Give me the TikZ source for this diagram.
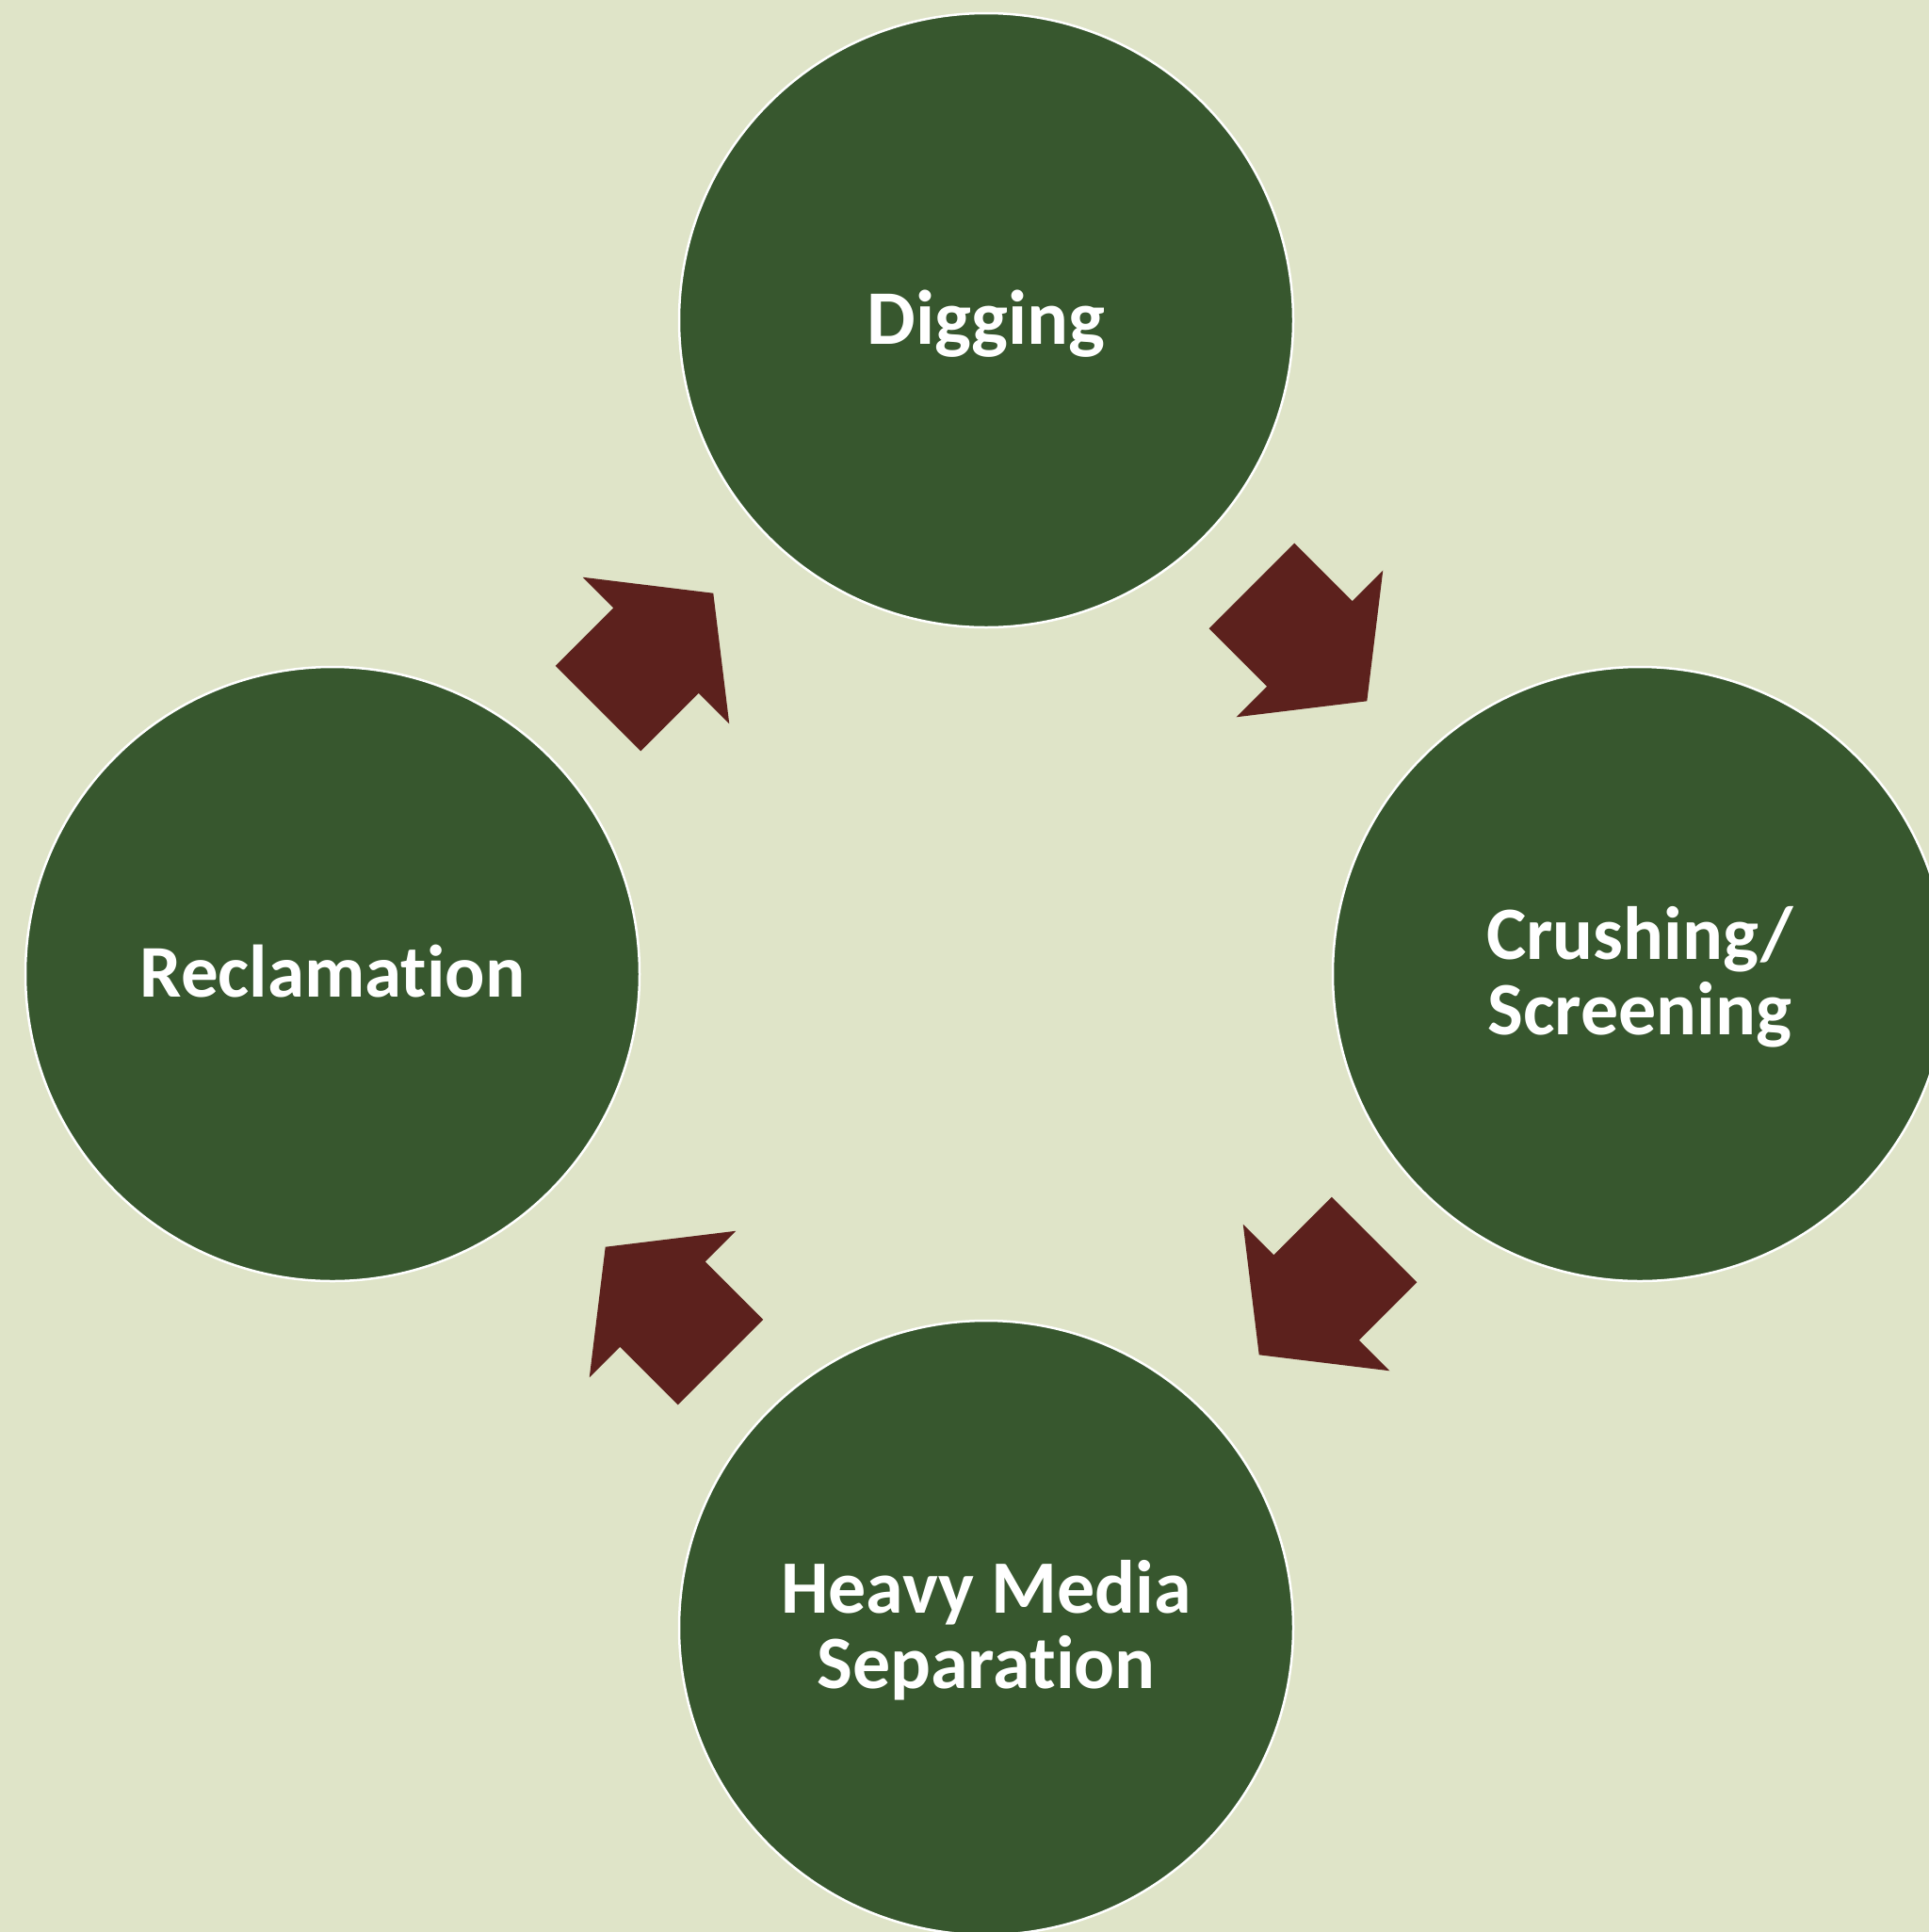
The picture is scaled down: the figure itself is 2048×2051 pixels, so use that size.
\documentclass[tikz,border=0pt]{standalone}
\usepackage{fontspec}
\setmainfont{Carlito}[Ligatures=NoCommon]
\usetikzlibrary{calc}
\definecolor{bgc}{RGB}{223,228,200}
\definecolor{stagec}{RGB}{55,87,46}
\definecolor{arrowc}{RGB}{92,33,29}
\begin{document}
\begin{tikzpicture}[x=1pt,y=1pt,
  stage/.style={circle,fill=stagec,draw=white,line width=2.5pt,minimum size=652pt,inner sep=0pt,
    text=white,font=\bfseries,align=center},
  one/.style={font=\fontsize{82}{80}\selectfont\bfseries,text height=50pt,text depth=0pt},
  onesmall/.style={font=\fontsize{79}{80}\selectfont\bfseries,text height=49pt,text depth=0pt},
  two/.style={font=\fontsize{80}{80}\selectfont\bfseries,text height=128pt,text depth=0pt},
  blockarrow/.style={fill=arrowc,draw=none}]
\fill[bgc] (0,0) rectangle (2048,-2051);
\clip (0,0) rectangle (2048,-2051);
\node[stage,one] (dig) at (1047,-340) {Digging};
\node[stage,two] (crush) at (1741,-1034) {Crushing/\\Screening};
\node[stage,two] (heavy) at (1047,-1728) {Heavy Media\\Separation};
\node[stage,onesmall] (recl) at (353,-1034) {Reclamation};
\foreach \a/\b/\r in {dig/crush/-45, crush/heavy/-135, heavy/recl/135, recl/dig/45}{
  \begin{scope}[shift={($(\a.center)!0.5!(\b.center)$)},rotate=\r]
    \fill[blockarrow] (-92,64) -- (-5,64) -- (-5,110) -- (81,0) -- (-5,-110) -- (-5,-64) -- (-92,-64) -- cycle;
  \end{scope}
}
\end{tikzpicture}
\end{document}
